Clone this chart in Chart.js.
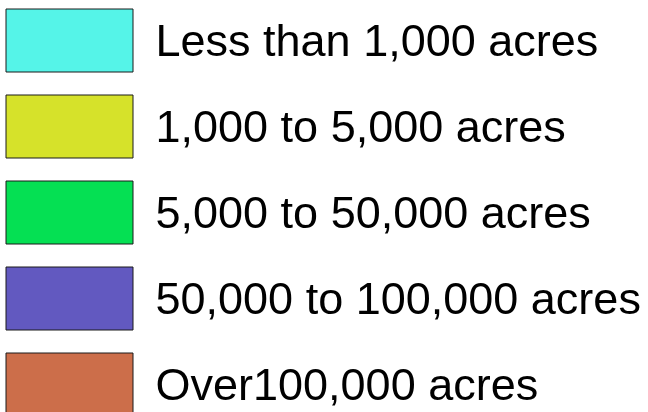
<!DOCTYPE html>
<html>
<head>
<meta charset="utf-8">
<script src="https://cdn.jsdelivr.net/npm/chart.js@4/dist/chart.umd.min.js"></script>
<style>
  html, body { margin: 0; padding: 0; background: #fff; overflow: hidden; }
  #wrap { position: absolute; left: -17px; top: -14px; width: 665px; height: 1000px; }
</style>
</head>
<body>
<div id="wrap"><canvas id="myChart"></canvas></div>
<script>
// legend classes (farm size)
const categories = [
    'Less than 1,000 acres',
    '1,000 to 5,000 acres',
    '5,000 to 50,000 acres',
    '50,000 to 100,000 acres',
    'Over100,000 acres'
];
const colors = ['#55f4e8', '#d6e22a', '#05e053', '#6259c0', '#cc6e4a'];

// one empty dataset per class, only the legend is shown
const datasets = categories.map((name, i) => ({
    label: name,
    data: [],
    backgroundColor: colors[i],
    borderColor: '#1a1a1a',
    borderWidth: 1
}));

// legend text sits a bit lower than chart.js centres it
const textNudge = {
    id: 'textNudge',
    beforeDraw(chart) {
        const c = chart.ctx;
        const orig = c.fillText;
        c.fillText = function(t, x, y, w) {
            return w === undefined ? orig.call(this, t, x, y + 3) : orig.call(this, t, x, y + 3, w);
        };
        chart._origFillText = orig;
    },
    afterDraw(chart) {
        chart.ctx.fillText = chart._origFillText;
    }
};

var ctx = document.getElementById('myChart').getContext('2d');
var myChart = new Chart(ctx, {
    type: 'bar',
    data: { labels: [], datasets: datasets },
    plugins: [textNudge],
    options: {
        responsive: true,
        maintainAspectRatio: false,
        animation: false,
        events: [],
        scales: {
            x: { display: false },
            y: { display: false }
        },
        plugins: {
            tooltip: { enabled: false },
            legend: {
                position: 'top',
                align: 'start',
                maxHeight: 600,
                labels: {
                    boxWidth: 127,
                    boxHeight: 63,
                    padding: 23,
                    color: '#000',
                    font: { family: '"Liberation Sans", Arial, sans-serif', size: 45 }
                }
            }
        }
    }
});
</script>
</body>
</html>
